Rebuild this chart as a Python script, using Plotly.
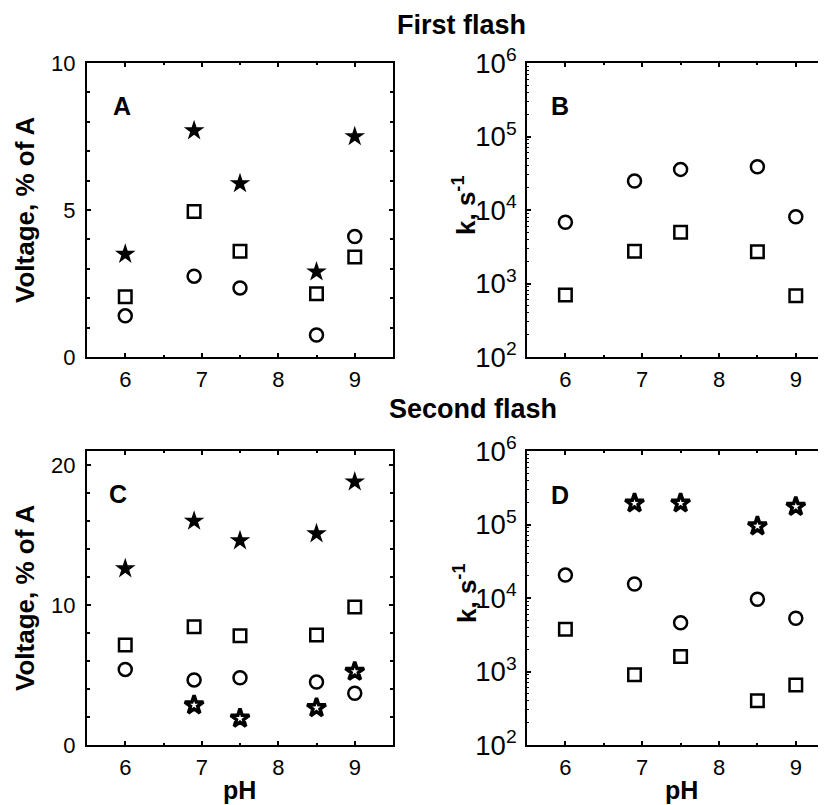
import plotly.graph_objects as go

# ---------------- data ----------------
ph = [6.0, 6.9, 7.5, 8.5, 9.0]
ph_star2 = [6.9, 7.5, 8.5, 9.0]

# Panel A: first flash, voltage (% of A)
a_star = [3.5, 7.7, 5.9, 2.9, 7.5]
a_square = [2.05, 4.95, 3.6, 2.15, 3.4]
a_circle = [1.4, 2.75, 2.35, 0.75, 4.1]

# Panel B: first flash, rate constants (s^-1)
b_circle = [6800, 24800, 35700, 38800, 8100]
b_square = [700, 2750, 5000, 2700, 680]

# Panel C: second flash, voltage (% of A)
c_star = [12.6, 16.0, 14.6, 15.1, 18.8]
c_square = [7.15, 8.45, 7.8, 7.85, 9.85]
c_circle = [5.4, 4.65, 4.8, 4.5, 3.7]
c_star_open = [2.85, 1.9, 2.65, 5.25]

# Panel D: second flash, rate constants (s^-1)
d_star_open = [195000, 195000, 95000, 175000]
d_circle = [20500, 15500, 4600, 9600, 5300]
d_square = [3750, 900, 1600, 400, 655]

FONT = "Arial, Liberation Sans, sans-serif"
OFF = 8                     # page body margin of the browser
W, H = 826 - OFF, 805 - OFF

def px_x(v):
    return (v - OFF) / W

def px_y(v):
    return 1 - (v - OFF) / H

fig = go.Figure()

def add(xs, ys, symbol, size, lw, xa, ya, color="black"):
    fig.add_trace(go.Scatter(
        x=xs, y=ys, mode="markers", xaxis=xa, yaxis=ya,
        marker=dict(symbol=symbol, size=size, color=color,
                    line=dict(color="black", width=lw)),
        showlegend=False, hoverinfo="skip"))

CIRC = 13
SQ = 12.5
STAR = 15.5

# A
add(ph, a_star, "star", STAR, 0, "x", "y")
add(ph, a_square, "square-open", SQ, 2.5, "x", "y")
add(ph, a_circle, "circle-open", CIRC, 2.5, "x", "y")
# B
add(ph, b_circle, "circle-open", CIRC, 2.5, "x2", "y2")
add(ph, b_square, "square-open", SQ, 2.5, "x2", "y2")
# C
add(ph, c_star, "star", STAR, 0, "x3", "y3")
add(ph, c_square, "square-open", SQ, 2.5, "x3", "y3")
add(ph, c_circle, "circle-open", CIRC, 2.5, "x3", "y3")
add(ph_star2, c_star_open, "star-open", 14, 3.5, "x3", "y3")
# D
add(ph_star2, d_star_open, "star-open", 14, 3.5, "x4", "y4")
add(ph, d_circle, "circle-open", CIRC, 2.5, "x4", "y4")
add(ph, d_square, "square-open", SQ, 2.5, "x4", "y4")

tickfont = dict(family=FONT, size=22, color="black")

left_dom = [px_x(87), px_x(393)]
right_dom = [px_x(527), 1.0]
top_dom = [px_y(357), px_y(63)]
bot_dom = [px_y(745), px_y(451)]

def xaxis(dom, anchor, rng, mirror):
    return dict(domain=dom, anchor=anchor, range=rng, dtick=1, tick0=6,
                ticks="inside", ticklen=4, tickwidth=1.5, tickcolor="black",
                minor=dict(dtick=0.5, ticks="inside", ticklen=2, tickwidth=1.5, tickcolor="black"),
                showline=True, linecolor="black", linewidth=2, mirror=mirror,
                showgrid=False, zeroline=False, tickfont=tickfont,
                ticklabelstandoff=2, automargin=False, fixedrange=True)

def yaxis_lin(dom, anchor, rng, dt, mdt):
    return dict(domain=dom, anchor=anchor, range=rng, dtick=dt, tick0=0,
                ticks="inside", ticklen=4, tickwidth=1.5, tickcolor="black",
                minor=dict(dtick=mdt, ticks="inside", ticklen=3, tickwidth=1.5, tickcolor="black"),
                showline=True, linecolor="black", linewidth=2, mirror="ticks",
                showgrid=False, zeroline=False, tickfont=tickfont,
                ticklabelstandoff=5, automargin=False, fixedrange=True)

def yaxis_log(dom, anchor):
    return dict(domain=dom, anchor=anchor, type="log", range=[2, 6], dtick=1,
                exponentformat="power", showexponent="all",
                ticks="inside", ticklen=4, tickwidth=1.5, tickcolor="black",
                minor=dict(dtick="D1", ticks="inside", ticklen=2, tickwidth=1, tickcolor="black"),
                showline=True, linecolor="black", linewidth=2, mirror=False,
                showgrid=False, zeroline=False, tickfont=tickfont,
                ticklabelstandoff=4, automargin=False, fixedrange=True)

xr_right = [5.5, 5.5 + (826 - 527) / 76.8]

fig.update_layout(
    width=W, height=H,
    margin=dict(l=0, r=0, t=0, b=0, autoexpand=False),
    paper_bgcolor="white", plot_bgcolor="white",
    font=dict(family=FONT, color="black"),
    xaxis=xaxis(left_dom, "y", [5.5, 9.5], "ticks"),
    yaxis=yaxis_lin(top_dom, "x", [0, 10], 5, 1),
    xaxis2=xaxis(right_dom, "y2", xr_right, "ticks"),
    yaxis2=yaxis_log(top_dom, "x2"),
    xaxis3=xaxis(left_dom, "y3", [5.5, 9.5], "ticks"),
    yaxis3=yaxis_lin(bot_dom, "x3", [0, 21], 10, 2),
    xaxis4=xaxis(right_dom, "y4", xr_right, "ticks"),
    yaxis4=yaxis_log(bot_dom, "x4"),
)

def ann(text, x, y, size, angle=0, xanchor="center"):
    fig.add_annotation(text=text, x=px_x(x), y=px_y(y), xref="paper", yref="paper",
                       showarrow=False, textangle=angle, xanchor=xanchor, yanchor="middle",
                       font=dict(family=FONT, size=size, color="black"))

ann("<b>First flash</b>", 461, 25, 27)
ann("<b>Second flash</b>", 473, 409, 27)
ann("<b>Voltage, % of A</b>", 25, 210, 26, -90)
ann("<b>Voltage, % of A</b>", 25, 598, 26, -90)
ann("<b>k, s<sup>-1</sup></b>", 465, 205, 26, -90)
ann("<b>k, s<sup>-1</sup></b>", 465, 593, 26, -90)
ann("<b>pH</b>", 240, 790, 25)
ann("<b>pH</b>", 681, 790, 25)
ann("<b>A</b>", 111, 106, 25, xanchor="left")
ann("<b>B</b>", 549, 106, 25, xanchor="left")
ann("<b>C</b>", 107, 494, 25, xanchor="left")
ann("<b>D</b>", 549, 495, 25, xanchor="left")

fig.write_html("out.html")
